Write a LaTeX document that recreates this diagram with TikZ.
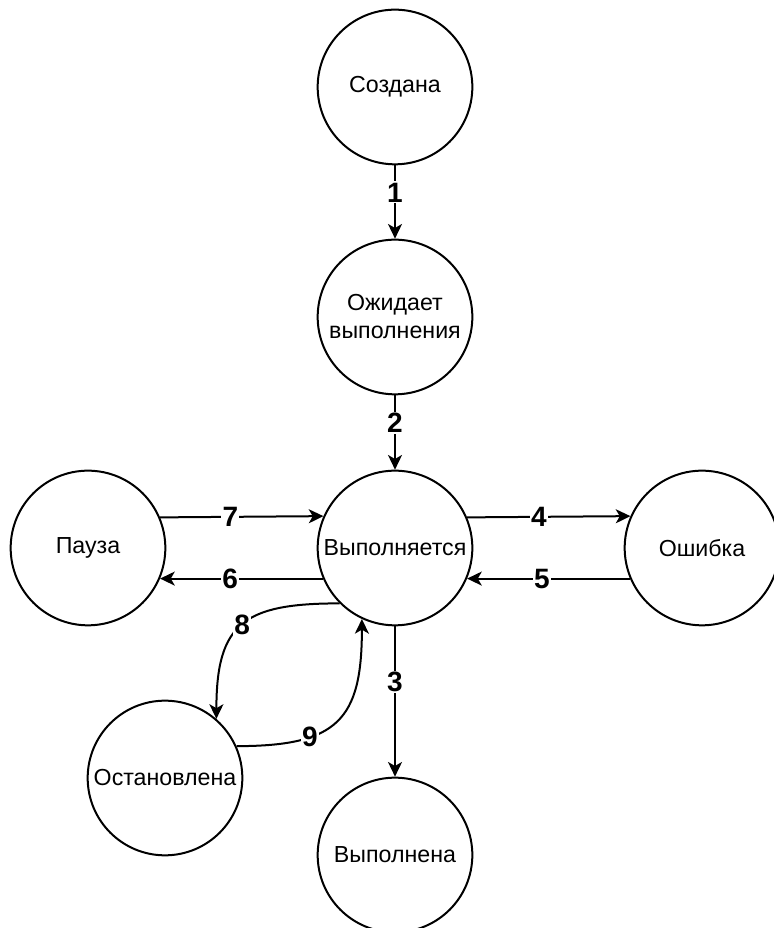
\documentclass[tikz,border=0pt]{standalone}
\usepackage{fontspec}
\setmainfont{Liberation Sans}
\usetikzlibrary{arrows.meta}

\begin{document}
\begin{tikzpicture}[x=0.75pt, y=0.75pt, state/.style={circle, draw, line width=1.5pt, minimum size=116pt, inner sep=0pt, align=center, font=\fontsize{17.4}{21}\selectfont}, trans/.style={line width=1.5pt, -{Stealth[length=11pt, width=10.5pt, inset=3pt]}}, num/.style={fill=white, inner sep=1pt, font=\fontsize{21}{22}\selectfont\bfseries}]
			\useasboundingbox (0,0) rectangle (774,928);
			\node[state] (created) at (395,841) {Создана};
			\node[state] (waiting) at (395,611) {Ожидает\\выполнения};
			\node[state] (running) at (395,380) {Выполняется};
			\node[state] (pause) at (88,380) {Пауза};
			\node[state] (error) at (702,380) {Ошибка};
			\node[state] (stopped) at (165,150) {Остановлена};
			\node[state] (done) at (395,73) {Выполнена};
			\draw[trans] (created) -- node[num, pos=.37] {1} (waiting);
			\draw[trans] (waiting) -- node[num, pos=.37] {2} (running);
			\draw[trans] (running) -- node[num, pos=.37] {3} (done);
			\draw[trans] (running.23.6) -- node[num, pos=.44] {4} (error.156.4);
			\draw[trans] (error.203.6) -- node[num, pos=.54] {5} (running.-23.6);
			\draw[trans] (running.203.6) -- node[num, pos=.57] {6} (pause.-23.6);
			\draw[trans] (pause.23.6) -- node[num, pos=.43] {7} (running.156.4);
			\draw[trans] (running.225) to[out=180, in=90, looseness=1.45] node[num, pos=.5] {8} (stopped.49);
			\draw[trans] (stopped.24) to[out=0, in=-90, looseness=1.45] node[num, pos=.31] {9} (running.245);
\end{tikzpicture}
\end{document}
